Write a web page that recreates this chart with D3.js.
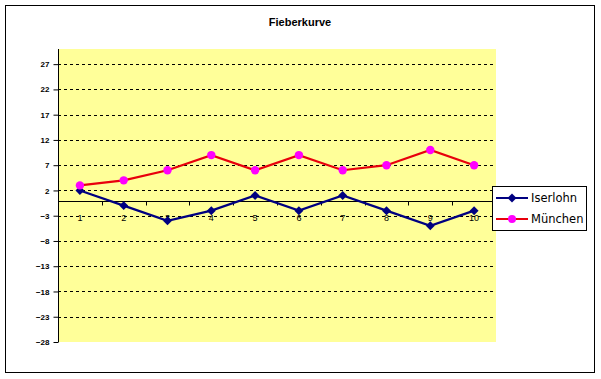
<!DOCTYPE html>
<html>
<head>
<meta charset="utf-8">
<script src="https://cdn.jsdelivr.net/npm/d3@7"></script>
<style>
  body { margin: 0; background: #fff; }
  svg { display: block; }
</style>
</head>
<body>
<div id="chart"></div>
<script>
const svgWidth = 601
const svgHeight = 379

const categories = [1, 2, 3, 4, 5, 6, 7, 8, 9, 10]
const iserlohn = [2, -1, -4, -2, 1, -2, 1, -2, -5, -2]
const muenchen = [3, 4, 6, 9, 6, 9, 6, 7, 10, 7]
const yTicks = [27, 22, 17, 12, 7, 2, -3, -8, -13, -18, -23, -28]

const plot = { left: 58, top: 49, right: 496, bottom: 342 }

const svg = d3.select("#chart").append("svg")
  .attr("width", svgWidth)
  .attr("height", svgHeight)

// outer chart border
svg.append("rect")
  .attr("x", 5.5).attr("y", 5.5)
  .attr("width", 589).attr("height", 367)
  .attr("fill", "#fff")
  .attr("stroke", "#000")

svg.append("text")
  .attr("x", 300).attr("y", 26)
  .attr("text-anchor", "middle")
  .attr("font-family", "Liberation Sans, Arial, sans-serif")
  .attr("font-weight", "bold")
  .attr("font-size", 11)
  .text("Fieberkurve")

const x = d3.scaleBand()
  .domain(categories)
  .range([plot.left, plot.right])

const y = d3.scaleLinear()
  .domain([-28, 30])
  .range([plot.bottom, plot.top])

svg.append("rect")
  .attr("x", plot.left).attr("y", plot.top)
  .attr("width", plot.right - plot.left)
  .attr("height", plot.bottom - plot.top)
  .attr("fill", "#FFFF99")

// category labels (gridlines are drawn over them, like the original)
svg.append("g")
  .selectAll("text")
  .data(categories)
  .enter()
  .append("text")
  .attr("x", d => x(d) + x.bandwidth() / 2)
  .attr("y", y(0) + 20)
  .attr("text-anchor", "middle")
  .attr("font-family", "Liberation Sans, Arial, sans-serif")
  .attr("font-size", 9)
  .attr("fill", "#000")
  .text(d => d)

// dashed gridlines
svg.append("g")
  .selectAll("line")
  .data(yTicks.filter(d => d !== -28))
  .enter()
  .append("line")
  .attr("x1", plot.left).attr("x2", plot.right)
  .attr("y1", d => Math.round(y(d)) + 0.5)
  .attr("y2", d => Math.round(y(d)) + 0.5)
  .attr("stroke", "#000")
  .attr("stroke-dasharray", "3,3")

// value axis
const yAxis = d3.axisLeft(y)
  .tickValues(yTicks)
  .tickSize(5)
  .tickPadding(4)

svg.append("g")
  .attr("transform", `translate(${plot.left + 0.5}, 0)`)
  .call(yAxis)
  .call(g => g.select(".domain").attr("d", `M0,${plot.top}V${plot.bottom}`))
  .call(g => g.selectAll("text")
    .attr("font-family", "Liberation Sans, Arial, sans-serif")
    .attr("font-weight", "bold")
    .attr("font-size", 8))

// category axis crossing at 0
const y0 = Math.round(y(0)) + 0.5
svg.append("line")
  .attr("x1", plot.left).attr("x2", plot.right)
  .attr("y1", y0).attr("y2", y0)
  .attr("stroke", "#000")

svg.append("g")
  .selectAll("line")
  .data(categories.slice(1))
  .enter()
  .append("line")
  .attr("x1", d => Math.round(x(d)) + 0.5)
  .attr("x2", d => Math.round(x(d)) + 0.5)
  .attr("y1", y0).attr("y2", y0 + 4)
  .attr("stroke", "#000")

const line = d3.line()
  .x((d, i) => x(categories[i]) + x.bandwidth() / 2)
  .y(d => y(d))

svg.append("path")
  .datum(iserlohn)
  .attr("d", line)
  .attr("fill", "none")
  .attr("stroke", "#000080")
  .attr("stroke-width", 2.2)

svg.append("path")
  .datum(muenchen)
  .attr("d", line)
  .attr("fill", "none")
  .attr("stroke", "#E8000C")
  .attr("stroke-width", 2.2)

const diamond = d3.symbol().type(d3.symbolSquare).size(40)

svg.append("g")
  .selectAll("path")
  .data(iserlohn)
  .enter()
  .append("path")
  .attr("d", diamond)
  .attr("transform", (d, i) => `translate(${x(categories[i]) + x.bandwidth() / 2}, ${y(d)}) rotate(45)`)
  .attr("fill", "#000080")

svg.append("g")
  .selectAll("circle")
  .data(muenchen)
  .enter()
  .append("circle")
  .attr("cx", (d, i) => x(categories[i]) + x.bandwidth() / 2)
  .attr("cy", d => y(d))
  .attr("r", 4.2)
  .attr("fill", "#FF00FF")

// legend
const legend = svg.append("g")
legend.append("rect")
  .attr("x", 492.5).attr("y", 186.5)
  .attr("width", 94).attr("height", 44)
  .attr("fill", "#fff")
  .attr("stroke", "#000")

const legendItems = [
  { name: "Iserlohn", color: "#000080", marker: "diamond", cy: 198 },
  { name: "München", color: "#E8000C", marker: "circle", cy: 219 }
]

legendItems.forEach(item => {
  legend.append("line")
    .attr("x1", 496).attr("x2", 528)
    .attr("y1", item.cy).attr("y2", item.cy)
    .attr("stroke", item.color)
    .attr("stroke-width", 2)
  if (item.marker === "diamond") {
    legend.append("path")
      .attr("d", diamond)
      .attr("transform", `translate(512, ${item.cy}) rotate(45)`)
      .attr("fill", "#000080")
  } else {
    legend.append("circle")
      .attr("cx", 512).attr("cy", item.cy)
      .attr("r", 4)
      .attr("fill", "#FF00FF")
  }
  legend.append("text")
    .attr("x", 531).attr("y", item.cy + 4)
    .attr("font-family", "DejaVu Sans, Verdana, sans-serif")
    .attr("font-size", 11.5)
    .text(item.name)
})
</script>
</body>
</html>
